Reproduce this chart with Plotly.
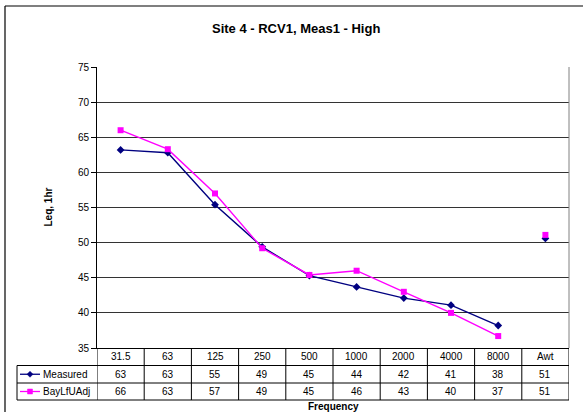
import plotly.graph_objects as go

# Octave-band levels (dB) and the A-weighted total
categories = ["31.5", "63", "125", "250", "500", "1000", "2000", "4000", "8000", "Awt"]
measured = [63.2, 62.8, 55.4, 49.4, 45.3, 43.7, 42.1, 41.1, 38.2, 50.6]
bay_lfu_adj = [66.0, 63.3, 57.0, 49.2, 45.4, 46.0, 43.0, 40.0, 36.7, 51.1]
y_ticks = [35, 40, 45, 50, 55, 60, 65, 70, 75]

series = [
    ("Measured", measured, "#000080", "diamond"),
    ("BayLfUAdj", bay_lfu_adj, "#FF00FF", "square"),
]

W, H = 583, 412
L, R, T, B = 97, 569, 67, 348          # plot-area pixel box
FONT = "Arial, Liberation Sans, sans-serif"


def px(x):
    return (x - L) / (R - L)


def py(y):
    return (B - y) / (B - T)


fig = go.Figure()

n_band = len(categories) - 1
for name, vals, color, symbol in series:
    # spectrum line (bands only)
    fig.add_trace(go.Scatter(
        x=categories[:n_band], y=vals[:n_band], mode="lines+markers", name=name,
        line=dict(color=color, width=1.4),
        marker=dict(symbol=symbol, size=6, color=color),
        showlegend=False, cliponaxis=False,
    ))
    # A-weighted total as a lone marker
    fig.add_trace(go.Scatter(
        x=categories[n_band:], y=vals[n_band:], mode="markers", name=name,
        marker=dict(symbol=symbol, size=6, color=color),
        showlegend=False, cliponaxis=False,
    ))

shapes = []
annotations = []


def label(x, y, text, size=10, xref="paper", xanchor="center", angle=0):
    annotations.append(dict(x=x, y=y, xref=xref, yref="paper", text=text,
                            xanchor=xanchor, yanchor="middle", textangle=angle,
                            showarrow=False,
                            font=dict(size=size, color="black", family=FONT)))


def hline(x0, x1, y, color="black", width=1.0):
    shapes.append(dict(type="line", xref="paper", yref="paper",
                       x0=px(x0), x1=px(x1), y0=py(y), y1=py(y),
                       line=dict(color=color, width=width)))


def vline(x, y0, y1, color="black", width=1.0):
    shapes.append(dict(type="line", xref="paper", yref="paper",
                       x0=px(x), x1=px(x), y0=py(y0), y1=py(y1),
                       line=dict(color=color, width=width)))


# outer chart frame: top and left edges (the rest runs off the page)
hline(5, W, 6, width=1.2)
vline(5, 6, H, width=1.2)
# right edge of plot area
vline(R, T, B, color="#808080")

# data table grid
row_edges = [348, 365.5, 383, 400]
tbl_left = 17
for yy in row_edges[1:]:
    hline(tbl_left, R, yy)
vline(tbl_left, row_edges[1], row_edges[3])
for k in range(len(categories) + 1):
    shapes.append(dict(type="line", xref="x", yref="paper",
                       x0=k - 0.5, x1=k - 0.5, y0=py(row_edges[0]), y1=py(row_edges[3]),
                       line=dict(color="black", width=1)))

row_mid = [(row_edges[i] + row_edges[i + 1]) / 2 for i in range(3)]

for i, cat in enumerate(categories):
    label(i, py(row_mid[0]), cat, xref="x")
    for r, (name, vals, color, symbol) in enumerate(series):
        label(i, py(row_mid[r + 1]), f"{vals[i]:.0f}", xref="x")

# legend keys inside the table
for r, (name, vals, color, symbol) in enumerate(series):
    yc = row_mid[r + 1]
    hline(20, 40, yc, color=color, width=1.3)
    if symbol == "diamond":
        path = (f"M {px(30)},{py(yc - 3)} L {px(33)},{py(yc)} "
                f"L {px(30)},{py(yc + 3)} L {px(27)},{py(yc)} Z")
        shapes.append(dict(type="path", xref="paper", yref="paper", path=path,
                           fillcolor=color, line=dict(color=color, width=0.5)))
    else:
        shapes.append(dict(type="rect", xref="paper", yref="paper",
                           x0=px(27.5), x1=px(32.5), y0=py(yc + 2.5), y1=py(yc - 2.5),
                           fillcolor=color, line=dict(color=color, width=0.5)))
    label(px(41), py(yc), name, xanchor="left")

# titles
label(px(296), py(28.5), "<b>Site 4 - RCV1, Meas1 - High</b>", size=13)
label(px(48), py(207.5), "<b>Leq, 1hr</b>", angle=-90)
label(0.5, py(406), "<b>Frequency</b>")

fig.update_layout(
    width=W, height=H,
    margin=dict(l=L, r=W - R, t=T, b=H - B, pad=0),
    paper_bgcolor="white", plot_bgcolor="white",
    font=dict(family=FONT, size=10, color="black"),
    shapes=shapes, annotations=annotations,
    xaxis=dict(type="category", categoryorder="array", categoryarray=categories,
               range=[-0.5, len(categories) - 0.5], showticklabels=False,
               showgrid=False, zeroline=False, showline=True, linecolor="black",
               linewidth=1, ticks="", fixedrange=True),
    yaxis=dict(range=[y_ticks[0], y_ticks[-1]], tickvals=y_ticks, ticks="outside",
               ticklen=5, tickcolor="black", tickwidth=1, showline=True,
               linecolor="black", linewidth=1, showgrid=True, gridcolor="#333333",
               gridwidth=1, zeroline=False, tickfont=dict(size=10, color="black"),
               fixedrange=True),
)

fig.write_html("out.html")
